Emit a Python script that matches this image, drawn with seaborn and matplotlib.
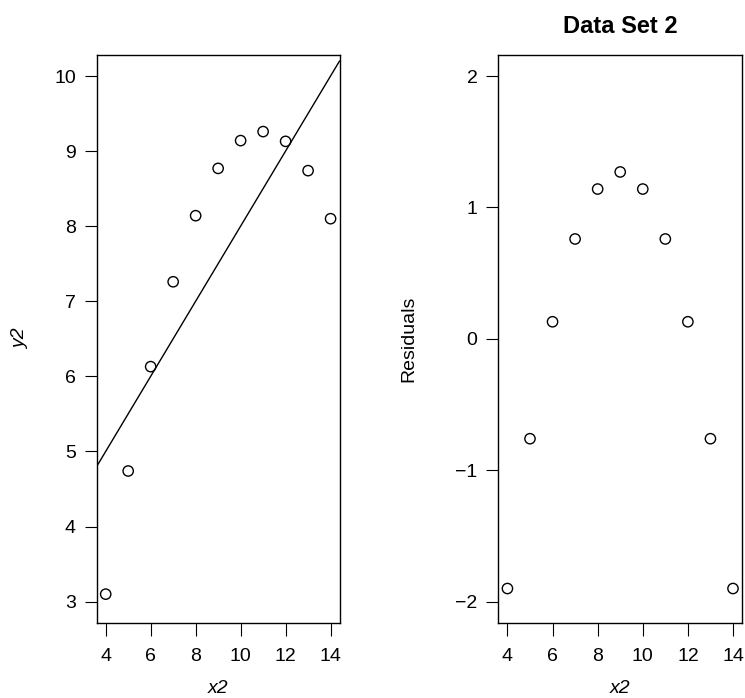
import matplotlib
matplotlib.use("Agg")
import matplotlib.pyplot as plt
import numpy as np
import seaborn as sns

# Anscombe data set 2
x2 = [10, 8, 13, 9, 11, 14, 6, 4, 12, 7, 5]
y2 = [9.14, 8.14, 8.74, 8.77, 9.26, 8.10, 6.13, 3.10, 9.13, 7.26, 4.74]
resid = [1.14, 1.14, -0.76, 1.27, 0.76, -1.90, 0.13, -1.90, 0.13, 0.76, -0.76]

xticks = [4, 6, 8, 10, 12, 14]
yticks_left = [3, 4, 5, 6, 7, 8, 9, 10]
yticks_right = [-2, -1, 0, 1, 2]

sns.set_style("ticks")
plt.rcParams['font.family'] = ['Liberation Sans', 'DejaVu Sans']
plt.rcParams['text.color'] = 'black'
plt.rcParams['axes.labelcolor'] = 'black'
plt.rcParams['axes.linewidth'] = 1.0
plt.rcParams['xtick.major.size'] = 9
plt.rcParams['ytick.major.size'] = 9
plt.rcParams['xtick.major.pad'] = 9
plt.rcParams['ytick.major.pad'] = 6

fig = plt.figure(figsize=(7.45, 6.98), dpi=100)
ax1 = fig.add_axes([0.1298, 0.1079, 0.326, 0.8133])
ax2 = fig.add_axes([0.669, 0.1079, 0.327, 0.8133])

slope, intercept = np.polyfit(x2, y2, 1)

sns.scatterplot(x=x2, y=y2, ax=ax1, marker='o', s=55, facecolor='none',
                edgecolor='black', linewidth=1.0)
ax1.axline((0, intercept), slope=slope, color='black', lw=1.0)
ax1.set_xlim(3.6, 14.4)
ax1.set_ylim(2.72, 10.28)
ax1.set_xticks(xticks)
ax1.set_yticks(yticks_left)
ax1.set_xlabel('x2', style='italic', fontsize=14, labelpad=11)
ax1.set_ylabel('y2', style='italic', fontsize=14, labelpad=18)

sns.scatterplot(x=x2, y=resid, ax=ax2, marker='o', s=55, facecolor='none',
                edgecolor='black', linewidth=1.0)
ax2.set_xlim(3.6, 14.4)
ax2.set_ylim(-2.16, 2.16)
ax2.set_xticks(xticks)
ax2.set_yticks(yticks_right)
ax2.set_yticklabels(['\u22122', '\u22121', '0', '1', '2'])
ax2.set_xlabel('x2', style='italic', fontsize=14, labelpad=11)
ax2.set_ylabel('Residuals', fontsize=14, labelpad=27)
ax2.set_title('Data Set 2', fontweight='bold', fontsize=17, pad=16)

for ax in (ax1, ax2):
    ax.tick_params(labelsize=14, color='black', labelcolor='black')
    for s in ax.spines.values():
        s.set_visible(True)
        s.set_color('black')

fig.savefig('out.png', dpi=100)
